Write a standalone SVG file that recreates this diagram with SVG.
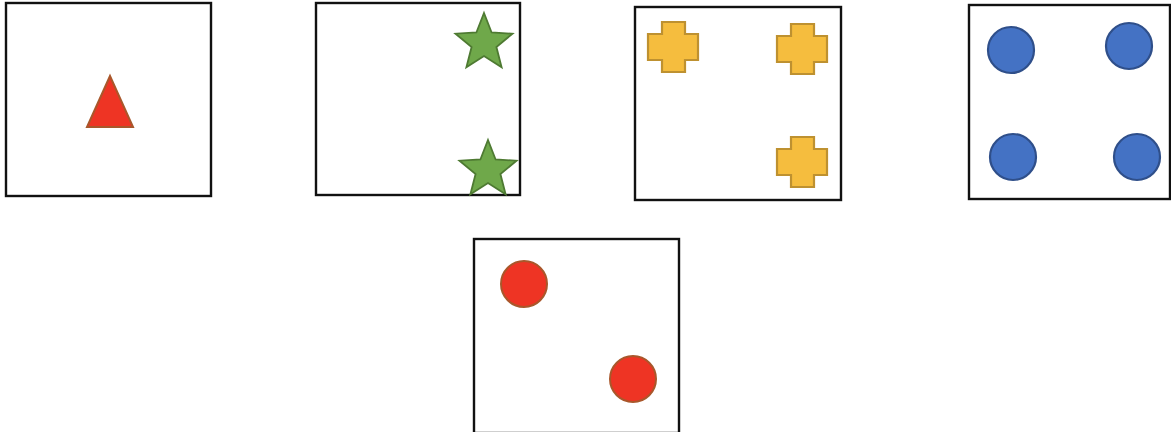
<svg xmlns="http://www.w3.org/2000/svg" width="1171" height="432" viewBox="0 0 1171 432">
<style>
.box{fill:#fff;stroke:#111;stroke-width:2.4}
.red{fill:#EE3424;stroke:#A9572B;stroke-width:2}
.star{fill:#6FA84A;stroke:#4E7A32;stroke-width:1.8}
.cross{fill:#F5BD3E;stroke:#BE9130;stroke-width:2.2}
.blue{fill:#4472C4;stroke:#2F4F8A;stroke-width:2.2}
</style>
<defs>
<polygon id="starShape" points="0,-30 7.6,-10.5 28.5,-9.3 12.4,4 17.6,24.3 0,13 -17.6,24.3 -12.4,4 -28.5,-9.3 -7.6,-10.5"/>
<polygon id="crossShape" points="14,0 37,0 37,12 50,12 50,38 37,38 37,50 14,50 14,38 0,38 0,12 14,12"/>
</defs>
<rect width="1171" height="432" fill="#fff"/>
<g id="panel1">
<rect class="box" x="6" y="3" width="205" height="193"/>
<polygon class="red" points="110,76 87,127 133,127"/>
</g>
<g id="panel2">
<rect class="box" x="316" y="3" width="204" height="192"/>
<use href="#starShape" class="star" transform="translate(484,43)"/>
<use href="#starShape" class="star" transform="translate(488,170)"/>
</g>
<g id="panel3">
<rect class="box" x="635" y="7" width="206" height="193"/>
<use href="#crossShape" class="cross" transform="translate(648,22)"/>
<use href="#crossShape" class="cross" transform="translate(777,24)"/>
<use href="#crossShape" class="cross" transform="translate(777,137)"/>
</g>
<g id="panel4">
<rect class="box" x="969" y="5" width="201" height="194"/>
<circle class="blue" cx="1011" cy="50" r="23"/>
<circle class="blue" cx="1129" cy="46" r="23"/>
<circle class="blue" cx="1013" cy="157" r="23"/>
<circle class="blue" cx="1137" cy="157" r="23"/>
</g>
<g id="panel5">
<rect class="box" x="474" y="239" width="205" height="194"/>
<circle class="red" cx="524" cy="284" r="23"/>
<circle class="red" cx="633" cy="379" r="23"/>
</g>
<g id="connectors"></g>
</svg>
